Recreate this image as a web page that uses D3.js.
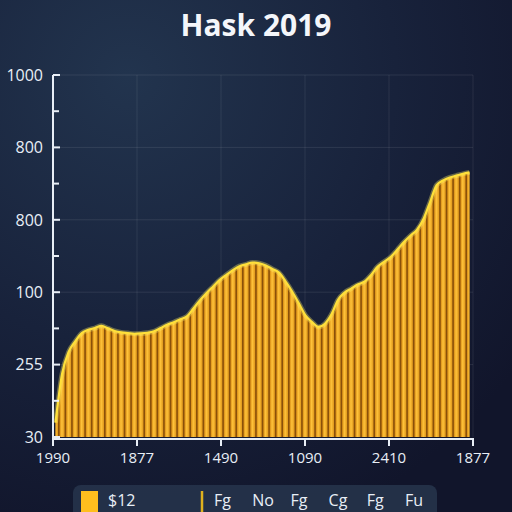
<!DOCTYPE html>
<html>
<head>
<meta charset="utf-8">
<script src="https://cdn.jsdelivr.net/npm/d3@7"></script>
<style>
  html, body { margin: 0; padding: 0; background: #151b31; }
  svg { display: block; }
  text { font-family: "Open Sans", "DejaVu Sans", sans-serif; fill: #e8eef6; }
</style>
</head>
<body>
<div id="chart"></div>
<script>
// values (bar tops, 0..1000 along the axis)
var barValues = [40, 174, 235, 264, 287, 296, 301, 307, 300, 293, 289, 287, 285, 286, 288, 292,
                 301, 310, 317, 325, 333, 355, 378, 398, 416, 434, 448, 461, 472, 477, 482, 480,
                 474, 464, 454, 430, 402, 370, 337, 318, 304, 313, 339, 379, 399, 410, 421, 429,
                 447, 470, 484, 497, 517, 538, 556, 572, 602, 649, 696, 709, 717, 722, 727, 731];
var yTickValues = [0, 200, 400, 600, 800, 1000];
var yTickLabels = ['30', '255', '100', '800', '800', '1000'];
var xTickLabels = ['1990', '1877', '1490', '1090', '2410', '1877'];
var legendMain = '$12';
var legendItems = ['Fg', 'No', 'Fg', 'Cg', 'Fg', 'Fu'];
var title = 'Hask 2019';

var W = 512, H = 512;
var plotLeft = 53, plotRight = 473, plotTop = 75, plotBottom = 437;

var svg = d3.select('#chart').append('svg')
    .attr('width', W)
    .attr('height', H);

var defs = svg.append('defs');

// background
var bg = defs.append('radialGradient')
    .attr('id', 'bg')
    .attr('cx', '0.25').attr('cy', '0.15').attr('r', '0.95');
bg.append('stop').attr('offset', '0%').attr('stop-color', '#22344e');
bg.append('stop').attr('offset', '55%').attr('stop-color', '#18223b');
bg.append('stop').attr('offset', '100%').attr('stop-color', '#11152b');
svg.append('rect').attr('width', W).attr('height', H).attr('fill', 'url(#bg)');

// bar stripe gradient
var bg2 = defs.append('linearGradient')
    .attr('id', 'stripe')
    .attr('x1', '0').attr('x2', '1').attr('y1', '0').attr('y2', '0');
bg2.append('stop').attr('offset', '0%').attr('stop-color', '#d68b14');
bg2.append('stop').attr('offset', '45%').attr('stop-color', '#ffc33a');
bg2.append('stop').attr('offset', '100%').attr('stop-color', '#de961a');

// scales
var yScale = d3.scaleLinear()
    .domain([0, 1000])
    .range([plotBottom, plotTop]);

var xBand = d3.scaleBand()
    .domain(d3.range(barValues.length))
    .range([plotLeft, plotRight - 1])
    .paddingInner(0.24);

var xTick = d3.scaleLinear()
    .domain([0, xTickLabels.length - 1])
    .range([plotLeft, plotRight]);

// grid
var grid = svg.append('g').attr('class', 'grid');
grid.selectAll('.hgrid')
    .data(yTickValues.slice(1))
    .enter().append('line')
    .attr('x1', plotLeft).attr('x2', plotRight)
    .attr('y1', function (d) { return yScale(d); })
    .attr('y2', function (d) { return yScale(d); })
    .attr('stroke', 'rgba(255,255,255,0.09)')
    .attr('stroke-width', 1);
grid.selectAll('.vgrid')
    .data(d3.range(1, xTickLabels.length))
    .enter().append('line')
    .attr('x1', function (d) { return xTick(d); })
    .attr('x2', function (d) { return xTick(d); })
    .attr('y1', plotTop).attr('y2', plotBottom)
    .attr('stroke', 'rgba(255,255,255,0.08)')
    .attr('stroke-width', 1);

// area behind stripes
var center = function (d, i) { return xBand(i) + xBand.bandwidth() / 2; };
var area = d3.area()
    .x(center)
    .y0(plotBottom)
    .y1(function (d) { return yScale(d); })
    .curve(d3.curveMonotoneX);
var line = d3.line()
    .x(center)
    .y(function (d) { return yScale(d); })
    .curve(d3.curveMonotoneX);

defs.append('clipPath').attr('id', 'areaClip')
    .append('path').attr('d', area(barValues));

svg.append('path')
    .attr('d', area(barValues))
    .attr('fill', '#8a5009');

// bars, clipped to the curve
svg.append('g')
    .attr('clip-path', 'url(#areaClip)')
    .selectAll('rect')
    .data(barValues)
    .enter().append('rect')
    .attr('class', 'bar')
    .attr('x', function (d, i) { return xBand(i); })
    .attr('y', function (d, i) {
        var m = Math.max(d, barValues[i - 1] || 0, barValues[i + 1] || 0);
        return yScale(m) - 4;
    })
    .attr('width', xBand.bandwidth())
    .attr('height', function (d, i) {
        var m = Math.max(d, barValues[i - 1] || 0, barValues[i + 1] || 0);
        return plotBottom - yScale(m) + 4;
    })
    .attr('fill', 'url(#stripe)');

// outline
svg.append('path')
    .attr('d', line(barValues))
    .attr('fill', 'none')
    .attr('stroke', '#fff06a')
    .attr('stroke-opacity', 0.35)
    .attr('stroke-width', 5);
svg.append('path')
    .attr('d', line(barValues))
    .attr('fill', 'none')
    .attr('stroke', '#ffe03a')
    .attr('stroke-width', 2.2)
    .attr('stroke-linejoin', 'round');

// y axis
var yMinor = d3.range(100, 1000, 200);
var yAxis = svg.append('g').attr('class', 'yaxis');
yAxis.append('line')
    .attr('x1', plotLeft).attr('x2', plotLeft)
    .attr('y1', plotTop).attr('y2', plotBottom + 1)
    .attr('stroke', '#e8eef6').attr('stroke-width', 2);
yAxis.selectAll('.major')
    .data(yTickValues)
    .enter().append('line')
    .attr('x1', plotLeft).attr('x2', plotLeft + 7)
    .attr('y1', function (d) { return yScale(d); })
    .attr('y2', function (d) { return yScale(d); })
    .attr('stroke', '#e8eef6').attr('stroke-width', 2);
yAxis.selectAll('.minor')
    .data(yMinor)
    .enter().append('line')
    .attr('x1', plotLeft).attr('x2', plotLeft + 6)
    .attr('y1', function (d) { return yScale(d); })
    .attr('y2', function (d) { return yScale(d); })
    .attr('stroke', '#e8eef6').attr('stroke-width', 2);
yAxis.selectAll('text')
    .data(yTickValues)
    .enter().append('text')
    .attr('x', plotLeft - 10)
    .attr('y', function (d) { return yScale(d); })
    .attr('dy', '0.36em')
    .attr('text-anchor', 'end')
    .attr('font-size', 16)
    .text(function (d, i) { return yTickLabels[i]; });

// x axis
var xAxis = svg.append('g').attr('class', 'xaxis');
xAxis.append('line')
    .attr('x1', plotLeft - 1).attr('x2', plotRight + 1)
    .attr('y1', plotBottom + 2).attr('y2', plotBottom + 2)
    .attr('stroke', '#e8eef6').attr('stroke-width', 2);
xAxis.selectAll('.tick')
    .data(d3.range(xTickLabels.length))
    .enter().append('line')
    .attr('x1', function (d) { return xTick(d); })
    .attr('x2', function (d) { return xTick(d); })
    .attr('y1', plotBottom + 1).attr('y2', plotBottom + 9)
    .attr('stroke', '#e8eef6').attr('stroke-width', 2);
xAxis.selectAll('text')
    .data(xTickLabels)
    .enter().append('text')
    .attr('x', function (d, i) { return xTick(i); })
    .attr('y', plotBottom + 26)
    .attr('text-anchor', 'middle')
    .attr('font-size', 15)
    .text(function (d) { return d; });

// title
svg.append('text')
    .attr('x', W / 2)
    .attr('y', 36)
    .attr('text-anchor', 'middle')
    .attr('font-family', 'Roboto, sans-serif')
    .attr('font-weight', 'bold')
    .attr('font-size', 30)
    .style('fill', '#f4f6fa')
    .text(title);

// legend
var lg = svg.append('g').attr('class', 'legend');
lg.append('rect')
    .attr('x', 73).attr('y', 485)
    .attr('width', 364).attr('height', 50)
    .attr('rx', 8)
    .attr('fill', '#27354c')
    .attr('fill-opacity', 0.85);
lg.append('rect')
    .attr('x', 81).attr('y', 491)
    .attr('width', 17).attr('height', 30)
    .attr('fill', '#ffbe1e');
lg.append('text')
    .attr('x', 108).attr('y', 506)
    .attr('font-size', 16)
    .text(legendMain);
lg.append('line')
    .attr('x1', 202).attr('x2', 202)
    .attr('y1', 491).attr('y2', 512)
    .attr('stroke', '#e0b21e').attr('stroke-width', 2.5);
var legendX = d3.scalePoint()
    .domain(d3.range(legendItems.length))
    .range([214, 405]);
lg.selectAll('.item')
    .data(legendItems)
    .enter().append('text')
    .attr('x', function (d, i) { return legendX(i); })
    .attr('y', 506)
    .attr('font-size', 16)
    .text(function (d) { return d; });
</script>
</body>
</html>
